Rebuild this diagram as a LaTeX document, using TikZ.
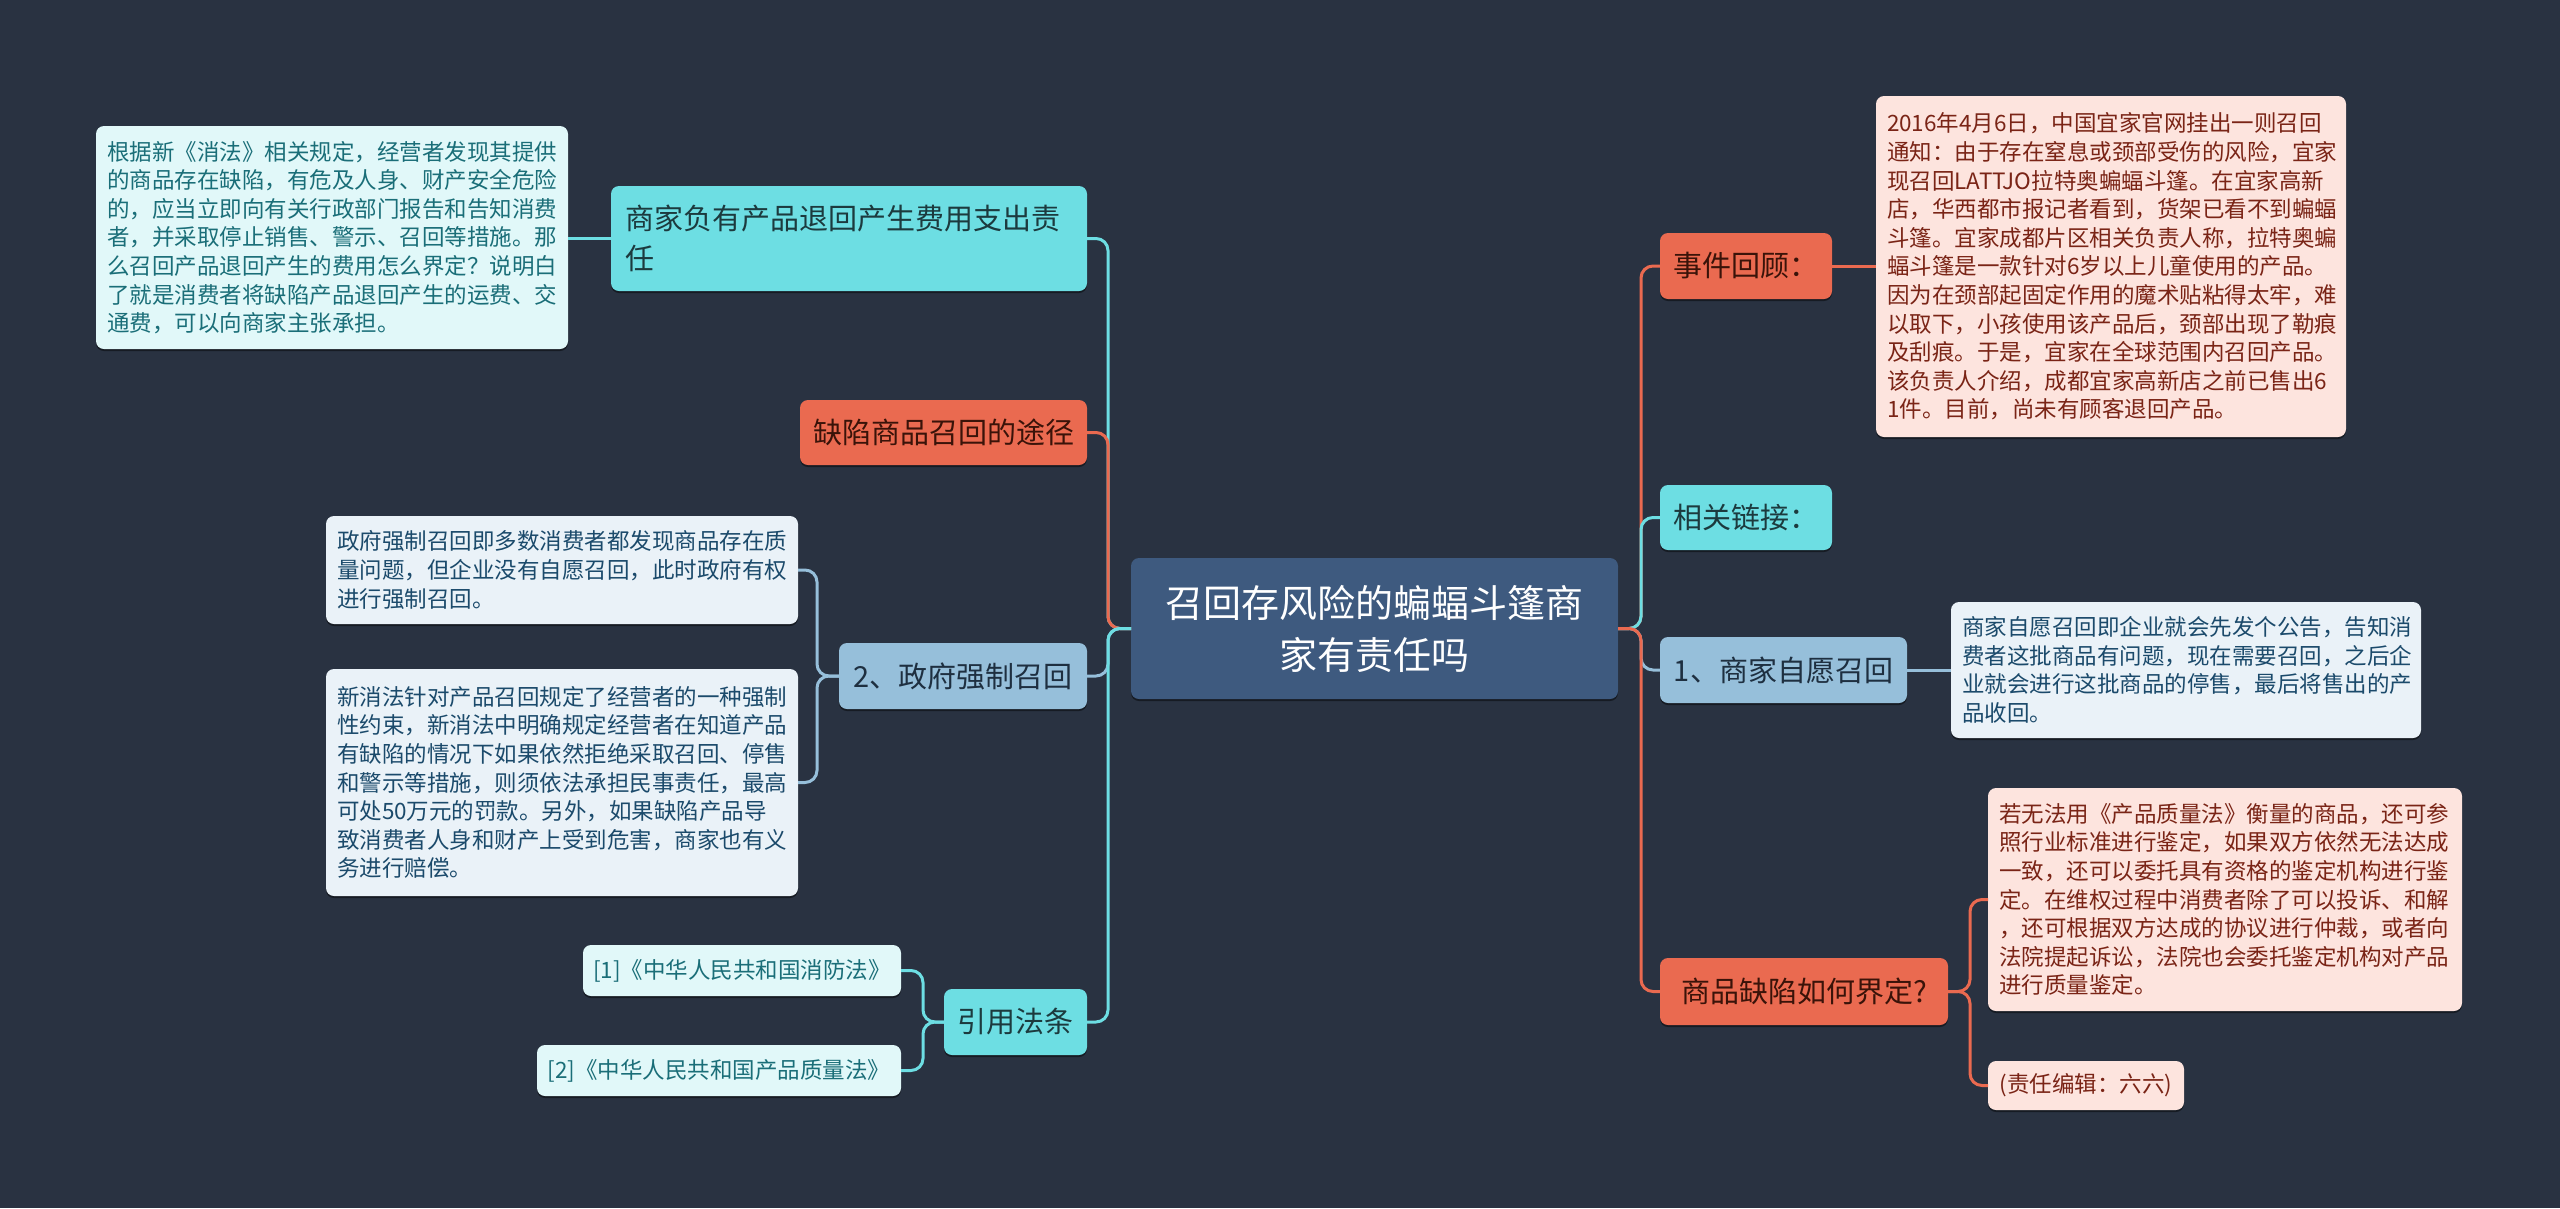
\documentclass[tikz,border=0pt]{standalone}
\usepackage{fontspec}
\setmainfont{Noto Sans CJK SC}
\usetikzlibrary{shadows}
\definecolor{bg}{HTML}{293241}
\definecolor{rootF}{HTML}{3E5A7F}
\definecolor{cyanM}{HTML}{6DDEE3}
\definecolor{cyanT}{HTML}{1C3A3E}
\definecolor{orangeM}{HTML}{EA6A50}
\definecolor{orangeT}{HTML}{3A1309}
\definecolor{blueM}{HTML}{96BFDA}
\definecolor{blueT}{HTML}{1E2F40}
\definecolor{leafC}{HTML}{E1F8F9}
\definecolor{leafCT}{HTML}{1A6E78}
\definecolor{leafB}{HTML}{EAF2F8}
\definecolor{leafBT}{HTML}{1B4A6B}
\definecolor{leafS}{HTML}{FDE4DE}
\definecolor{leafST}{HTML}{7A2416}
\begin{document}
\begin{tikzpicture}[x=1pt,y=-1pt,
  base/.style={rounded corners=8pt, inner sep=0pt, outer sep=0pt,
    drop shadow={shadow xshift=0pt, shadow yshift=-2pt, opacity=.45, fill=black}},
  rootnode/.style={base, fill=rootF, text=white, align=center,
    font=\fontsize{38}{52}\selectfont},
  mainnode/.style={base, align=center, font=\fontsize{29}{40}\selectfont},
  mC/.style={mainnode, fill=cyanM, text=cyanT},
  mO/.style={mainnode, fill=orangeM, text=orangeT},
  mB/.style={mainnode, fill=blueM, text=blueT},
  leaf/.style={base, inner xsep=11pt, align=left, font=\fontsize{22.5}{28.6}\selectfont},
  lC/.style={leaf, fill=leafC, text=leafCT},
  lB/.style={leaf, fill=leafB, text=leafBT},
  lS/.style={leaf, fill=leafS, text=leafST},
  conn/.style={line width=3pt, rounded corners=12pt}
]
\fill[bg] (0,0) rectangle (2560,1208);
\useasboundingbox (0,0) rectangle (2560,1208);

% root
\node[rootnode, minimum width=487pt, minimum height=141pt] (c) at (1374.5,628.5)
  {召回存风险的蝙蝠斗篷商\\家有责任吗};

% left main nodes
\node[mC, inner xsep=14pt, align=left, text width=448pt, minimum height=105pt] (L1) at (849,238.5)
  {商家负有产品退回产生费用支出责\\任};
\node[mO, minimum width=287pt, minimum height=65pt] (L2) at (943.5,432.5) {缺陷商品召回的途径};
\node[mB, minimum width=248pt, minimum height=66pt] (L3) at (963,676) {2、政府强制召回};
\node[mC, minimum width=143pt, minimum height=66pt] (L4) at (1015.5,1022) {引用法条};

% left leaves
\node[lC, text width=450pt, minimum height=223pt] (L1a) at (332,237.5)
  {根据新《消法》相关规定，经营者发现其提供\\
   的商品存在缺陷，有危及人身、财产安全危险\\
   的，应当立即向有关行政部门报告和告知消费\\
   者，并采取停止销售、警示、召回等措施。那\\
   么召回产品退回产生的费用怎么界定？说明白\\
   了就是消费者将缺陷产品退回产生的运费、交\\
   通费，可以向商家主张承担。};
\node[lB, text width=450pt, minimum height=108pt] (L3a) at (562,570)
  {政府强制召回即多数消费者都发现商品存在质\\
   量问题，但企业没有自愿召回，此时政府有权\\
   进行强制召回。};
\node[lB, text width=450pt, minimum height=227pt] (L3b) at (562,782.5)
  {新消法针对产品召回规定了经营者的一种强制\\
   性约束，新消法中明确规定经营者在知道产品\\
   有缺陷的情况下如果依然拒绝采取召回、停售\\
   和警示等措施，则须依法承担民事责任，最高\\
   可处50万元的罚款。另外，如果缺陷产品导\\
   致消费者人身和财产上受到危害，商家也有义\\
   务进行赔偿。};
\node[lC, inner xsep=0pt, align=center, minimum width=318pt, minimum height=51pt] (L4a) at (742,970.5)
  {[1]《中华人民共和国消防法》};
\node[lC, inner xsep=0pt, align=center, minimum width=364pt, minimum height=51pt] (L4b) at (719,1070.5)
  {[2]《中华人民共和国产品质量法》};

% right main nodes
\node[mO, minimum width=172pt, minimum height=66pt] (R1) at (1746,266) {事件回顾：};
\node[mC, minimum width=172pt, minimum height=65pt] (R2) at (1746,517.5) {相关链接：};
\node[mB, minimum width=247pt, minimum height=66pt] (R3) at (1783.5,670) {1、商家自愿召回};
\node[mO, minimum width=288pt, minimum height=67pt] (R4) at (1804,991.5) {商品缺陷如何界定?};

% right leaves
\node[lS, text width=448pt, minimum height=341pt] (R1a) at (2111,266.5)
  {2016年4月6日，中国宜家官网挂出一则召回\\
   通知：由于存在窒息或颈部受伤的风险，宜家\\
   现召回LATTJO拉特奥蝙蝠斗篷。在宜家高新\\
   店，华西都市报记者看到，货架已看不到蝙蝠\\
   斗篷。宜家成都片区相关负责人称，拉特奥蝙\\
   蝠斗篷是一款针对6岁以上儿童使用的产品。\\
   因为在颈部起固定作用的魔术贴粘得太牢，难\\
   以取下，小孩使用该产品后，颈部出现了勒痕\\
   及刮痕。于是，宜家在全球范围内召回产品。\\
   该负责人介绍，成都宜家高新店之前已售出6\\
   1件。目前，尚未有顾客退回产品。};
\node[lB, text width=448pt, minimum height=136pt] (R3a) at (2186,670)
  {商家自愿召回即企业就会先发个公告，告知消\\
   费者这批商品有问题，现在需要召回，之后企\\
   业就会进行这批商品的停售，最后将售出的产\\
   品收回。};
\node[lS, text width=452pt, minimum height=223pt] (R4a) at (2225,899.5)
  {若无法用《产品质量法》衡量的商品，还可参\\
   照行业标准进行鉴定，如果双方依然无法达成\\
   一致，还可以委托具有资格的鉴定机构进行鉴\\
   定。在维权过程中消费者除了可以投诉、和解\\
   ，还可根据双方达成的协议进行仲裁，或者向\\
   法院提起诉讼，法院也会委托鉴定机构对产品\\
   进行质量鉴定。};
\node[lS, inner xsep=0pt, align=center, minimum width=196pt, minimum height=49pt] (R4b) at (2086,1085.5)
  {(责任编辑：六六)};

% connectors root -> left
\draw[conn, cyanM]   (c.west) -- ++(-23,0) |- (L1.east);
\draw[conn, orangeM] (c.west) -- ++(-23,0) |- (L2.east);
\draw[conn, blueM]   (c.west) -- ++(-23,0) |- (L3.east);
\draw[conn, cyanM]   (c.west) -- ++(-23,0) |- (L4.east);
% connectors root -> right
\draw[conn, orangeM] (c.east) -- ++(23,0) |- (R1.west);
\draw[conn, cyanM]   (c.east) -- ++(23,0) |- (R2.west);
\draw[conn, blueM]   (c.east) -- ++(23,0) |- (R3.west);
\draw[conn, orangeM] (c.east) -- ++(23,0) |- (R4.west);

% leaf connectors
\draw[conn, cyanM] (L1.west) -- (L1a.east |- L1.west);
\draw[conn, blueM] (L3.west) -- ++(-22,0) |- (L3a.east);
\draw[conn, blueM] (L3.west) -- ++(-22,0) |- (L3b.east);
\draw[conn, cyanM] (L4.west) -- ++(-21,0) |- (L4a.east);
\draw[conn, cyanM] (L4.west) -- ++(-21,0) |- (L4b.east);
\draw[conn, orangeM] (R1.east) -- (R1a.west |- R1.east);
\draw[conn, blueM] (R3.east) -- (R3a.west |- R3.east);
\draw[conn, orangeM] (R4.east) -- ++(22,0) |- (R4a.west);
\draw[conn, orangeM] (R4.east) -- ++(22,0) |- (R4b.west);
\end{tikzpicture}
\end{document}
